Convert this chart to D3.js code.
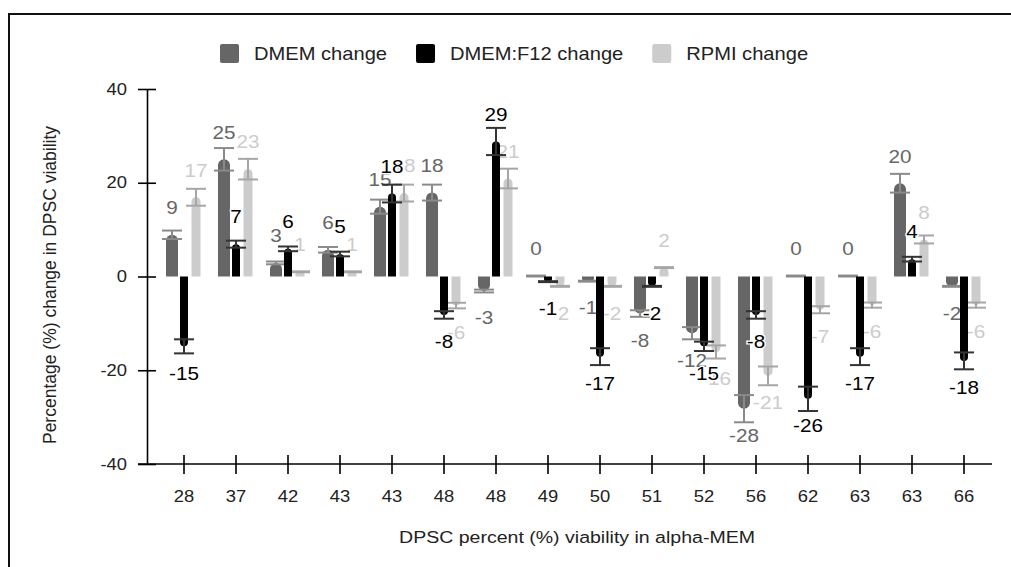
<!DOCTYPE html>
<html>
<head>
<meta charset="utf-8">
<script src="https://cdn.jsdelivr.net/npm/d3@7"></script>
<style>
    body { margin: 0; background: #fff; }
    svg { display: block; font-family: "Liberation Sans", Arial, sans-serif; }
</style>
</head>
<body>
<svg id="chart" width="1011" height="567"></svg>
<script>
// Values
const categories = ['28', '37', '42', '43', '43', '48', '48', '49', '50', '51', '52', '56', '62', '63', '63', '66'];
const seriesNames = ['DMEM change', 'DMEM:F12 change', 'RPMI change'];

const dmemValues = [8.9, 25.0, 2.9, 5.7, 14.9, 17.9, -3.1, 0.1, -1.0, -7.9, -12.1, -28.2, 0.1, 0.1, 19.9, -2.1];
const dmemErrors = [0.9, 2.4, 0.3, 0.6, 1.5, 1.7, 0.3, 0.1, 0.1, 0.7, 1.3, 2.9, 0.1, 0.1, 2.0, 0.1];

const f12Values = [-14.9, 6.9, 5.9, 4.8, 17.7, -8.2, 28.8, -1.1, -17.1, -2.1, -14.9, -8.2, -26.1, -17.1, 3.7, -18.0];
const f12Errors = [1.5, 0.75, 0.5, 0.5, 1.9, 0.8, 2.9, 0.1, 1.8, 0.1, 1.0, 0.8, 2.6, 1.8, 0.5, 1.8];

const rpmiValues = [16.9, 22.9, 1.0, 1.0, 17.8, -6.2, 20.9, -2.1, -2.1, 1.9, -16.1, -21.2, -7.1, -6.1, 7.9, -6.1];
const rpmiErrors = [1.8, 2.2, 0.1, 0.1, 1.8, 0.6, 2.1, 0.1, 0.1, 0.1, 1.4, 2.0, 0.75, 0.55, 0.85, 0.55];

const yTicks = [-40, -20, 0, 20, 40];

// text in the reference is a bit wider than the font, stretch it horizontally
const SX = 1.15;

const series = [
    { name: seriesNames[0], values: dmemValues, errors: dmemErrors, color: '#666666', errColor: '#8a8a8a', width: 12 },
    { name: seriesNames[1], values: f12Values, errors: f12Errors, color: '#000000', errColor: '#333333', width: 8 },
    { name: seriesNames[2], values: rpmiValues, errors: rpmiErrors, color: '#cccccc', errColor: '#a6a6a6', width: 9 }
];

const svg = d3.select('#chart');

// Frame (top and left only, like the cropped screenshot)
svg.append('path')
    .attr('d', 'M9,567 V14 H1011')
    .attr('fill', 'none')
    .attr('stroke', '#111')
    .attr('stroke-width', 2);

const x = d3.scaleBand()
    .domain(d3.range(categories.length))
    .range([158, 990]);

const inner = d3.scaleBand()
    .domain(seriesNames)
    .range([-18, 18]);

const y = d3.scaleLinear()
    .domain([-40, 40])
    .range([464, 89]);

// plain hyphen for negatives, like the reference
const fmt = v => String(Math.round(v));

// Y axis
const yAxis = svg.append('g')
    .attr('transform', 'translate(147,0)')
    .call(d3.axisLeft(y).tickValues(yTicks).tickFormat(fmt).tickSize(9).tickSizeOuter(0));
yAxis.attr('font-size', 16).attr('font-family', '"Liberation Sans", Arial, sans-serif');
yAxis.select('.domain').attr('stroke', '#000').attr('stroke-width', 1.6);
yAxis.selectAll('.tick line').attr('x1', 9).attr('stroke', '#000').attr('stroke-width', 1.6);
yAxis.selectAll('.tick text')
    .attr('x', null)
    .attr('transform', `translate(-20,0) scale(${SX},1)`)
    .attr('fill', '#222');

// X axis
const xAxis = svg.append('g')
    .attr('transform', `translate(0,${y(-40)})`)
    .call(d3.axisBottom(x).tickFormat(i => categories[i]).tickSize(10).tickSizeOuter(0));
xAxis.attr('font-size', 16).attr('font-family', '"Liberation Sans", Arial, sans-serif');
xAxis.select('.domain')
    .attr('d', 'M138,0 H992')
    .attr('stroke', '#000').attr('stroke-width', 1.6);
xAxis.selectAll('.tick line').attr('y1', -9).attr('stroke', '#000').attr('stroke-width', 1.6);
xAxis.selectAll('.tick text')
    .attr('y', null)
    .attr('transform', `translate(0,27) scale(${SX},1)`)
    .attr('fill', '#222');

// Axis titles
svg.append('text')
    .attr('transform', `translate(577,537) scale(${SX},1)`)
    .attr('text-anchor', 'middle')
    .attr('dy', '0.35em')
    .attr('fill', '#222')
    .style('font-size', '17px')
    .text('DPSC percent (%) viability in alpha-MEM');

svg.append('text')
    .attr('transform', 'translate(50,285) rotate(-90)')
    .attr('text-anchor', 'middle')
    .attr('dy', '0.35em')
    .attr('fill', '#222')
    .style('font-size', '17.5px')
    .text('Percentage (%) change in DPSC viability');

// bar with a rounded end on the value side
function barPath(cx, w, v) {
    const x0 = cx - w / 2, x1 = cx + w / 2;
    const yb = y(0), yt = y(v);
    const h = Math.abs(yb - yt);
    const r = Math.min(w / 2, h / 2);
    if (v >= 0) {
        return `M${x0},${yb} V${yt + r} A${w / 2},${r} 0 0 1 ${x1},${yt + r} V${yb} Z`;
    }
    return `M${x0},${yb} V${yt - r} A${w / 2},${r} 0 0 0 ${x1},${yt - r} V${yb} Z`;
}

const capHalf = 10;

// draw order of the reference: DMEM, RPMI, then DMEM:F12 on top
[series[0], series[2], series[1]].forEach(s => {
    const g = svg.append('g').attr('class', 'series');
    const rows = s.values.map((v, i) => ({ i, v, e: s.errors[i] }));
    const cx = d => x(d.i) + x.bandwidth() / 2 + inner(s.name) + inner.bandwidth() / 2;

    g.selectAll('path.bar')
        .data(rows)
        .enter()
        .append('path')
        .attr('class', 'bar')
        .attr('d', d => barPath(cx(d), s.width, d.v))
        .attr('fill', s.color);

    const err = g.selectAll('g.err')
        .data(rows)
        .enter()
        .append('g')
        .attr('class', 'err')
        .attr('stroke', s.errColor)
        .attr('stroke-width', 2);

    err.append('line')
        .attr('x1', cx).attr('x2', cx)
        .attr('y1', d => y(d.v - d.e))
        .attr('y2', d => y(d.v + d.e));
    err.append('line')
        .attr('x1', d => cx(d) - capHalf).attr('x2', d => cx(d) + capHalf)
        .attr('y1', d => y(d.v + d.e)).attr('y2', d => y(d.v + d.e));
    err.append('line')
        .attr('x1', d => cx(d) - capHalf).attr('x2', d => cx(d) + capHalf)
        .attr('y1', d => y(d.v - d.e)).attr('y2', d => y(d.v - d.e));

    g.selectAll('text.value')
        .data(rows)
        .enter()
        .append('text')
        .attr('class', 'value')
        .attr('transform', d => `translate(${cx(d)},${y(d.v) + (d.v >= 0 ? -27 : 27)}) scale(${SX},1)`)
        .attr('text-anchor', 'middle')
        .attr('dy', '0.35em')
        .attr('fill', s.color)
        .attr('stroke', '#fff')
        .attr('stroke-width', 2.5)
        .attr('paint-order', 'stroke')
        .style('font-size', '18px')
        .text(d => fmt(d.v));
});

// Legend
let lx = 220;
series.forEach(s => {
    const item = svg.append('g').attr('class', 'legend-item');
    item.append('rect')
        .attr('x', lx).attr('y', 44)
        .attr('width', 19).attr('height', 19)
        .attr('rx', 2)
        .attr('fill', s.color);
    const t = item.append('text')
        .attr('transform', `translate(${lx + 34},53.5) scale(${SX},1)`)
        .attr('dy', '0.35em')
        .attr('fill', '#222')
        .style('font-size', '17.5px')
        .text(s.name);
    lx += 34 + t.node().getComputedTextLength() * SX + 29;
});
</script>
</body>
</html>
